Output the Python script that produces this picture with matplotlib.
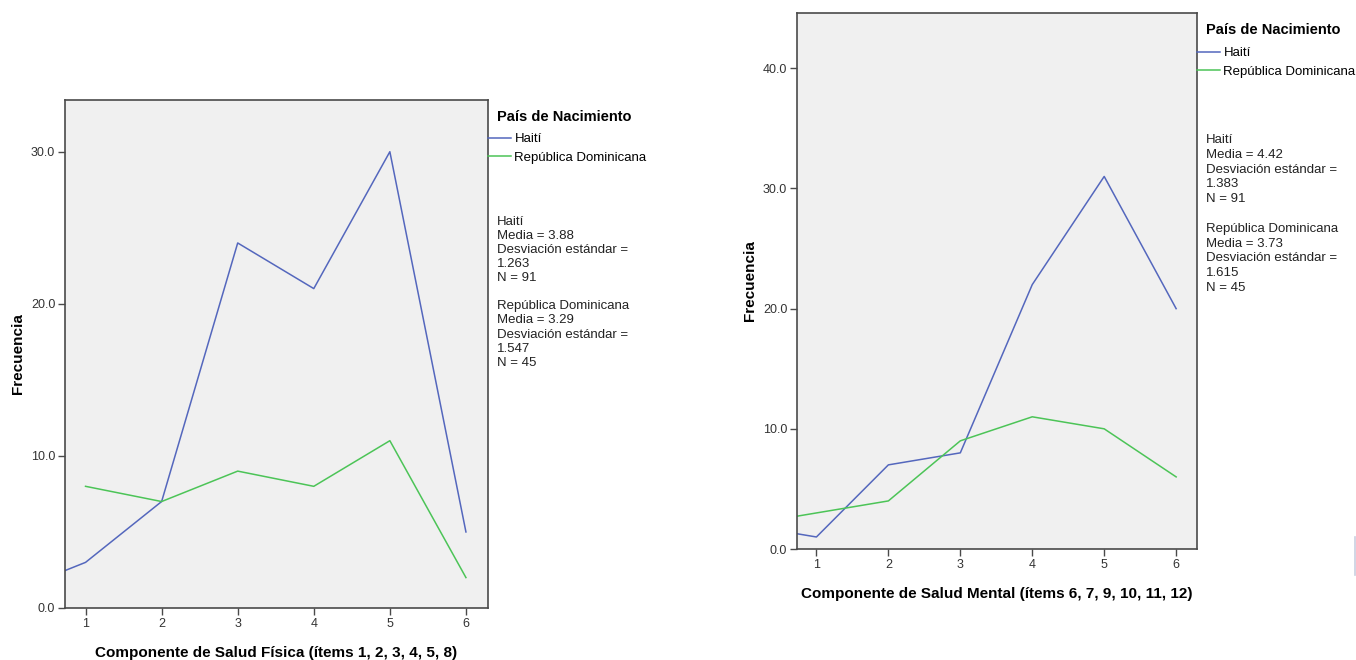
import matplotlib
matplotlib.use("Agg")
import matplotlib.pyplot as plt
from matplotlib.lines import Line2D

# categories on the x axis
categorias = [1, 2, 3, 4, 5, 6]

# Salud Fisica (left panel) - Haiti has a point at 0 that is clipped by the axis
fisica_haiti_x = [0, 1, 2, 3, 4, 5, 6]
fisica_haiti = [1, 3, 7, 24, 21, 30, 5]
fisica_rd_x = [1, 2, 3, 4, 5, 6]
fisica_rd = [8, 7, 9, 8, 11, 2]

# Salud Mental (right panel)
mental_haiti_x = [0, 1, 2, 3, 4, 5, 6]
mental_haiti = [2, 1, 7, 8, 22, 31, 20]
mental_rd_x = [0, 1, 2, 3, 4, 5, 6]
mental_rd = [2, 3, 4, 9, 11, 10, 6]

fisica_yticks = [0, 10, 20, 30]
mental_yticks = [0, 10, 20, 30, 40]

leyenda = ["Haití", "República Dominicana"]
stats_fisica = ("Haití\nMedia = 3.88\nDesviación estándar =\n1.263\nN = 91\n\n"
                "República Dominicana\nMedia = 3.29\nDesviación estándar =\n1.547\nN = 45")
stats_mental = ("Haití\nMedia = 4.42\nDesviación estándar =\n1.383\nN = 91\n\n"
                "República Dominicana\nMedia = 3.73\nDesviación estándar =\n1.615\nN = 45")

AZUL = "#5467bd"
VERDE = "#4cc457"
FONDO = "#f0f0f0"
MARCO = "#4a4a4a"

plt.rcParams["font.family"] = ["Liberation Sans", "DejaVu Sans"]

W, H = 1356, 660
fig = plt.figure(figsize=(13.56, 6.6), dpi=100)


def panel(rect, hx, hy, rx, ry, yticks, ymax, xlabel, wpx, hpx):
    ax = fig.add_axes(rect)
    ax.set_facecolor(FONDO)
    ax.plot(hx, hy, color=AZUL, lw=1.1, label=leyenda[0])
    ax.plot(rx, ry, color=VERDE, lw=1.1, label=leyenda[1])
    ax.set_xlim(0.73, 6.29)
    ax.set_ylim(0, ymax)
    ax.set_xticks(categorias)
    ax.set_xticklabels([str(c) for c in categorias])
    ax.set_yticks(yticks)
    ax.set_yticklabels(["%.1f" % v for v in yticks])
    ax.tick_params(direction="out", length=5, width=1, color=MARCO,
                   labelsize=9, labelcolor="#333333", pad=2)
    for s in ax.spines.values():
        s.set_color(MARCO)
        s.set_linewidth(1.2)
    ax.set_ylabel("Frecuencia", fontsize=11, fontweight="bold", va="center")
    ax.yaxis.set_label_coords(-47 / wpx, 0.5)
    ax.set_xlabel(xlabel, fontsize=11, fontweight="bold", va="center")
    ax.xaxis.set_label_coords(0.5, -45 / hpx)
    return ax


# left panel
ax1 = panel([65 / W, 1 - 608 / H, 423 / W, 508 / H],
            fisica_haiti_x, fisica_haiti, fisica_rd_x, fisica_rd,
            fisica_yticks, 33.4, "Componente de Salud Física (ítems 1, 2, 3, 4, 5, 8)", 423, 508)
# right panel
ax2 = panel([797 / W, 1 - 549 / H, 400 / W, 536 / H],
            mental_haiti_x, mental_haiti, mental_rd_x, mental_rd,
            mental_yticks, 44.6, "Componente de Salud Mental (ítems 6, 7, 9, 10, 11, 12)", 400, 536)


def leyenda_panel(ax, x_axis, x_text, y_title, y_first, y_stats, stats, ls):
    fig.text(x_text / W, 1 - y_title / H, "País de Nacimiento",
             fontsize=10.5, fontweight="bold", va="center", ha="left")
    ax.legend(loc="upper left", bbox_to_anchor=(x_axis / W, 1 - (y_first - 8) / H),
              bbox_transform=fig.transFigure, frameon=False, borderaxespad=0,
              borderpad=0, handlelength=1.75, handletextpad=0.25, labelspacing=0.5,
              prop={"size": 9.5})
    fig.text(x_text / W, 1 - y_stats / H, stats, fontsize=9.5,
             va="top", ha="left", linespacing=ls, color="#222222")


leyenda_panel(ax1, 488, 497, 117, 141, 216, stats_fisica, 1.23)
leyenda_panel(ax2, 1197, 1206, 30, 55, 134, stats_mental, 1.31)

# small artifact line at the right edge of the screenshot
fig.add_artist(Line2D([1355 / W, 1355 / W], [1 - 575 / H, 1 - 537 / H],
                      color="#c9d0e0", lw=1.2))

fig.savefig("out.png", dpi=100)
